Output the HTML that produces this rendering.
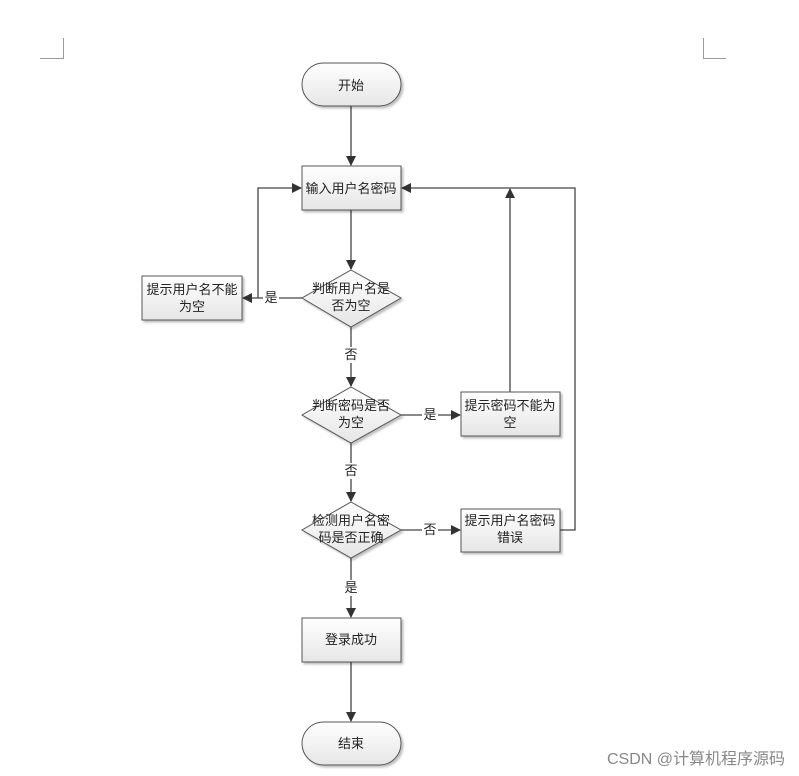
<!DOCTYPE html>
<html><head><meta charset="utf-8"><style>
html,body{margin:0;padding:0;background:#fff;width:799px;height:776px;overflow:hidden}
svg text{font-family:"Liberation Sans","Noto Sans CJK SC",sans-serif;font-size:13px;fill:#222}
</style></head><body>
<svg width="799" height="776" viewBox="0 0 799 776" xmlns="http://www.w3.org/2000/svg">
<defs>
<linearGradient id="g" x1="0" y1="0" x2="0" y2="1"><stop offset="0" stop-color="#ffffff"/><stop offset="1" stop-color="#e6e6e6"/></linearGradient>
<marker id="a" markerWidth="10" markerHeight="10" refX="9" refY="5" orient="auto" markerUnits="userSpaceOnUse"><path d="M0,0 L10,5 L0,10 z" fill="#333"/></marker>
<filter id="s" x="-10%" y="-10%" width="130%" height="140%"><feDropShadow dx="2" dy="2" stdDeviation="1" flood-color="#000" flood-opacity="0.25"/></filter>
</defs>
<g stroke="#999" fill="none" stroke-width="1">
<path d="M63.5 38 V58.5 H40"/><path d="M703.5 38 V58.5 H726"/>
</g>
<g stroke="#444" stroke-width="1.3" fill="none">
<path d="M351 106 V165" marker-end="url(#a)"/>
<path d="M351 210 V269" marker-end="url(#a)"/>
<path d="M302 298 H243" marker-end="url(#a)"/>
<path d="M258 298 V188 H301" marker-end="url(#a)"/>
<path d="M351 327 V386" marker-end="url(#a)"/>
<path d="M401 415 H460" marker-end="url(#a)"/>
<path d="M510 392 V189" marker-end="url(#a)"/>
<path d="M351 443 V501" marker-end="url(#a)"/>
<path d="M401 530 H460" marker-end="url(#a)"/>
<path d="M560 530 H575 V188 H402" marker-end="url(#a)"/>
<path d="M351 558 V617" marker-end="url(#a)"/>
<path d="M351 662 V721" marker-end="url(#a)"/>
</g>
<g fill="url(#g)" stroke="#555" stroke-width="1" filter="url(#s)">
<rect x="302" y="63" width="99" height="43" rx="21.5"/>
<rect x="302" y="166" width="99" height="44"/>
<polygon points="351,270 401,298 351,327 302,298"/>
<rect x="142" y="276" width="100" height="44"/>
<polygon points="351,387 401,415 351,443 302,415"/>
<rect x="461" y="392" width="99" height="44"/>
<polygon points="351,502 401,530 351,558 302,530"/>
<rect x="461" y="509" width="99" height="43"/>
<rect x="302" y="618" width="99" height="44"/>
<rect x="302" y="722" width="99" height="43" rx="21.5"/>
</g>
<g text-anchor="middle">
<text x="351" y="90">开始</text>
<text x="351" y="193">输入用户名密码</text>
<text x="351" y="293">判断用户名是</text><text x="351" y="310">否为空</text>
<text x="192" y="294">提示用户名不能</text><text x="192" y="311">为空</text>
<text x="351" y="410">判断密码是否</text><text x="351" y="427">为空</text>
<text x="510" y="410">提示密码不能为</text><text x="510" y="427">空</text>
<text x="351" y="525">检测用户名密</text><text x="351" y="542">码是否正确</text>
<text x="510" y="525">提示用户名密码</text><text x="510" y="542">错误</text>
<text x="351" y="644">登录成功</text>
<text x="351" y="748">结束</text>
</g>
<g text-anchor="middle">
<rect x="263" y="290" width="16" height="16" fill="#fff"/><text x="271" y="302">是</text>
<rect x="343" y="347" width="16" height="16" fill="#fff"/><text x="351" y="359">否</text>
<rect x="422" y="407" width="16" height="16" fill="#fff"/><text x="430" y="419">是</text>
<rect x="343" y="463" width="16" height="16" fill="#fff"/><text x="351" y="475">否</text>
<rect x="422" y="522" width="16" height="16" fill="#fff"/><text x="430" y="534">否</text>
<rect x="343" y="580" width="16" height="16" fill="#fff"/><text x="351" y="592">是</text>
</g>
<text x="785" y="764" text-anchor="end" style="font-size:16px;fill:#888">CSDN @计算机程序源码</text>
</svg>
</body></html>
